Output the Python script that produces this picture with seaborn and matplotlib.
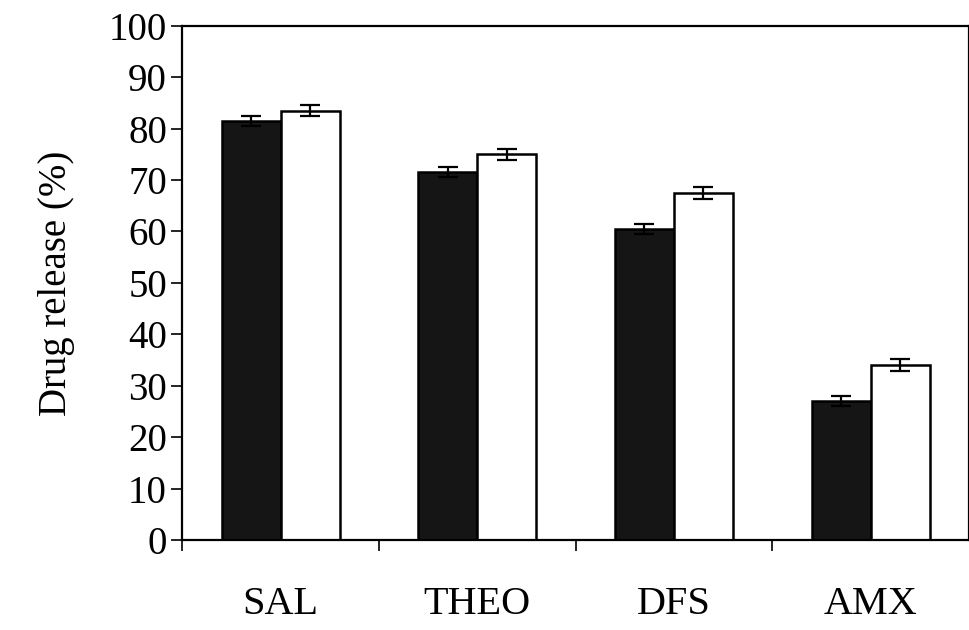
import numpy as np
import pandas as pd
import matplotlib
matplotlib.use("Agg")
import matplotlib.pyplot as plt
import seaborn as sns

# values
drugs = ['SAL', 'THEO', 'DFS', 'AMX']
series = ['Series 1', 'Series 2']
release_1 = [81.5, 71.5, 60.5, 27.0]
release_2 = [83.5, 75.0, 67.5, 34.0]
err_1 = [1.0, 1.0, 1.0, 1.0]
err_2 = [1.1, 1.1, 1.1, 1.1]

df = pd.DataFrame({
    'Drug': drugs * 2,
    'Series': [series[0]] * 4 + [series[1]] * 4,
    'Release': release_1 + release_2,
    'Err': err_1 + err_2,
})

sns.set_style("white")
plt.rcParams['font.family'] = ['Liberation Serif', 'DejaVu Serif']
plt.rcParams['text.color'] = 'black'
plt.rcParams['axes.labelcolor'] = 'black'
plt.rcParams['xtick.color'] = 'black'
plt.rcParams['ytick.color'] = 'black'

fig = plt.figure(figsize=(9.69, 6.3), dpi=100)
ax = fig.add_axes([0.188, 0.143, 0.812, 0.816])

sns.barplot(data=df, x='Drug', y='Release', hue='Series', order=drugs,
            hue_order=series, palette=['#151515', 'white'], width=0.6,
            edgecolor='black', linewidth=1.8, errorbar=None, legend=False, ax=ax)

# error bars at the bar centres seaborn placed
for cont, s in zip(ax.containers, series):
    sub = df[df['Series'] == s].set_index('Drug').loc[drugs]
    xs = [p.get_x() + p.get_width() / 2 for p in cont.patches]
    ax.errorbar(xs, sub['Release'], yerr=sub['Err'], fmt='none', ecolor='black',
                elinewidth=1.6, capsize=7, capthick=1.6, zorder=5)

ax.set_ylim(0, 100)
ax.set_xlim(-0.5, 3.5)
ax.set_yticks(np.arange(0, 101, 10))
ax.set_ylabel('Drug release (%)', fontsize=28, labelpad=24)
ax.set_xlabel('')

ax.set_xticks([0.5 - 1, 0.5, 1.5, 2.5], minor=True)
ax.tick_params(axis='x', which='major', length=0, pad=33, labelsize=29)
ax.tick_params(axis='x', which='minor', length=8, width=1.2, direction='out', bottom=True)
ax.tick_params(axis='y', length=8, width=1.2, direction='out', left=True, labelsize=28, pad=3)

for side in ['left', 'bottom', 'top', 'right']:
    ax.spines[side].set_color('black')
    ax.spines[side].set_linewidth(1.6)

fig.savefig('out.png', dpi=100)
